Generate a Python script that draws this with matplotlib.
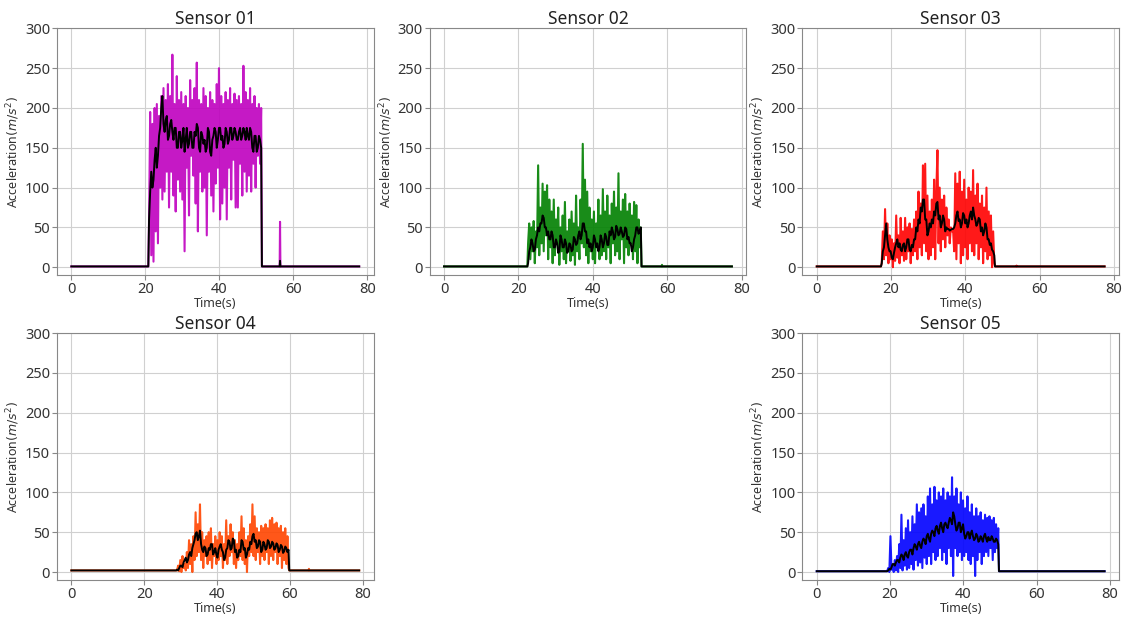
import numpy as np
import matplotlib.pyplot as plt

plt.rcParams['font.family'] = ['Noto Sans', 'DejaVu Sans']

STEP = 0.3    # sample spacing inside the active window (s)

# Sensor 01
s1_t0, s1_end, s1_base = 21.0, 77.8, 1
s1_raw = [60, 195, 15, 180, 7, 200, 45, 205, 30, 190,
          100, 215, 85, 225, 95, 210, 120, 230, 75, 215,
          120, 267, 90, 205, 70, 240, 110, 210, 95, 220,
          85, 205, 20, 215, 125, 200, 65, 235, 140, 210,
          115, 225, 80, 257, 45, 210, 120, 205, 95, 225,
          100, 215, 40, 200, 120, 220, 90, 210, 70, 205,
          105, 230, 125, 250, 60, 215, 80, 205, 100, 220,
          60, 210, 125, 225, 85, 205, 135, 218, 75, 210,
          75, 215, 130, 205, 90, 253, 120, 220, 95, 210,
          115, 225, 95, 205, 130, 215, 100, 200, 140, 205,
          130, 200]
s1_avg = [60, 95, 120, 100, 110, 135, 150, 125, 140, 165,
          175, 200, 215, 180, 170, 185, 190, 160, 165, 180,
          185, 170, 160, 175, 175, 150, 150, 170, 170, 150,
          160, 175, 145, 160, 175, 150, 155, 170, 170, 150,
          150, 170, 165, 180, 175, 150, 145, 170, 165, 155,
          160, 145, 150, 175, 170, 145, 140, 160, 165, 175,
          170, 150, 160, 175, 175, 160, 165, 150, 155, 175,
          170, 155, 160, 175, 175, 160, 165, 175, 170, 160,
          160, 170, 175, 160, 165, 175, 170, 160, 175, 165,
          160, 175, 170, 150, 145, 165, 165, 145, 150, 165,
          160, 150]
s1_blips = [(56.4, 57)]
s1_avg_blips = [(56.4, 8)]

# Sensor 02
s2_t0, s2_end, s2_base = 22.6, 77.4, 1
s2_raw = [30, 55, 10, 50, 20, 58, 5, 45, 25, 128,
          15, 75, 30, 105, 20, 95, 40, 103, 10, 85,
          25, 70, 5, 85, 15, 60, 30, 75, 3, 50,
          20, 65, 10, 82, 5, 45, 25, 60, 8, 70,
          15, 55, 3, 90, 20, 50, 10, 85, 30, 155,
          25, 110, 15, 95, 5, 75, 20, 60, 10, 70,
          5, 55, 25, 85, 10, 65, 15, 98, 20, 70,
          10, 90, 25, 65, 5, 80, 30, 95, 15, 75,
          20, 118, 10, 70, 35, 85, 5, 92, 25, 70,
          15, 80, 30, 65, 10, 82, 20, 78, 5, 60,
          25, 50]
s2_avg = [5, 20, 25, 35, 30, 20, 22, 35, 40, 50,
          45, 55, 55, 65, 62, 50, 50, 40, 45, 35,
          35, 45, 40, 25, 25, 35, 30, 18, 20, 40,
          35, 25, 25, 35, 30, 18, 20, 30, 28, 20,
          22, 38, 35, 28, 30, 40, 45, 35, 40, 55,
          55, 45, 45, 30, 35, 25, 30, 20, 25, 40,
          35, 25, 30, 20, 25, 40, 35, 25, 30, 42,
          38, 28, 28, 45, 40, 50, 45, 35, 38, 52,
          48, 40, 42, 50, 45, 38, 40, 50, 48, 35,
          38, 30, 30, 20, 25, 35, 40, 50, 50, 42,
          45, 50]
s2_blips = [(58.6, 3)]

# Sensor 03
s3_t0, s3_end, s3_base = 17.5, 77.5, 1
s3_raw = [5, 45, 10, 73, 15, 55, 5, 40, 10, 35,
          0, 30, 8, 65, 12, 40, 5, 62, 15, 45,
          8, 62, 10, 50, 20, 55, 5, 48, 15, 60,
          20, 70, 10, 95, 25, 80, 15, 128, 30, 130,
          20, 90, 10, 70, 15, 85, 25, 110, 10, 95,
          147, 30, 100, 20, 85, 35, 90, 25, 75, 40,
          60, 30, 50, 45, 48, 20, 118, 10, 105, 30,
          120, 5, 95, 15, 110, 25, 85, 10, 100, 30,
          95, 20, 122, 15, 90, 30, 105, 10, 80, 25,
          90, 5, 75, 20, 100, 10, 70, 15, 65, 0,
          45, 5]
s3_avg = [5, 20, 25, 40, 55, 35, 25, 20, 20, 12,
          10, 18, 25, 30, 35, 25, 30, 22, 20, 28,
          30, 20, 25, 35, 35, 22, 20, 28, 25, 35,
          35, 50, 45, 60, 55, 75, 70, 85, 85, 60,
          60, 40, 45, 55, 50, 60, 55, 70, 65, 80,
          82, 60, 65, 50, 55, 65, 60, 45, 50, 48,
          48, 46, 47, 48, 48, 50, 55, 65, 70, 58,
          60, 50, 55, 68, 65, 55, 60, 50, 55, 65,
          70, 60, 75, 65, 60, 52, 55, 62, 60, 45,
          50, 40, 45, 55, 50, 35, 35, 28, 30, 22,
          20, 15]
s3_blips = [(53.8, 2)]

# Sensor 04
s4_t0, s4_end, s4_base = 29.0, 79.0, 2
s4_raw = [2, 8, 1, 15, 0, 20, 5, 10, 2, 25,
          5, 40, 10, 35, 0, 45, 15, 75, 20, 60,
          25, 85, 15, 50, 5, 40, 20, 45, 10, 50,
          15, 55, 5, 35, 20, 45, 10, 40, 15, 50,
          20, 45, 5, 35, 15, 65, 10, 45, 20, 60,
          25, 50, 10, 40, 5, 35, 15, 50, 20, 70,
          15, 55, 10, 40, 0, 45, 20, 60, 25, 85,
          20, 70, 15, 55, 25, 50, 10, 58, 20, 55,
          15, 60, 25, 55, 10, 65, 20, 68, 15, 60,
          25, 62, 10, 55, 20, 58, 5, 50, 15, 55,
          10, 45, 5]
s4_avg = [3, 2, 5, 8, 8, 6, 12, 15, 18, 12,
          15, 22, 25, 20, 30, 35, 40, 48, 50, 40,
          45, 52, 35, 28, 25, 32, 30, 20, 22, 30,
          28, 35, 35, 22, 25, 30, 22, 18, 28, 32,
          35, 28, 25, 15, 18, 28, 30, 40, 38, 28,
          30, 42, 40, 25, 28, 18, 20, 28, 25, 40,
          38, 28, 30, 18, 22, 30, 28, 38, 35, 45,
          48, 38, 40, 30, 32, 40, 38, 25, 28, 38,
          35, 28, 30, 40, 38, 30, 32, 38, 36, 28,
          30, 36, 34, 25, 28, 34, 32, 24, 26, 32,
          30, 25, 28]
s4_blips = [(65.2, 4)]

# Sensor 05
s5_t0, s5_end, s5_base = 19.2, 78.5, 1
s5_raw = [1, 5, 0, 45, 3, 8, 0, 15, 2, 20,
          0, 35, 5, 72, 2, 40, 8, 55, 3, 65,
          5, 50, 10, 70, 3, 60, 15, 85, 8, 75,
          12, 80, 5, 85, 18, 70, 10, 95, 20, 105,
          10, 85, 25, 107, 15, 90, 20, 100, 30, 95,
          15, 105, 25, 90, 10, 100, 30, 95, 20, 119,
          -5, 95, 30, 105, 20, 85, 25, 100, 15, 90,
          20, 80, 25, 95, 15, 75, 10, 85, 20, 70,
          -5, 80, 15, 70, 25, 75, 10, 65, 20, 72,
          25, 68, 20, 70, 30, 65, 15, 68, 25, 60,
          30, 55]
s5_avg = [1, 2, 4, 3, 6, 10, 10, 8, 12, 15,
          15, 12, 18, 22, 20, 15, 22, 25, 20, 18,
          25, 28, 28, 22, 30, 35, 32, 28, 35, 38,
          33, 30, 38, 42, 40, 35, 45, 48, 42, 38,
          48, 52, 50, 45, 55, 58, 52, 48, 58, 62,
          55, 50, 60, 62, 58, 55, 62, 68, 65, 60,
          75, 70, 60, 52, 55, 62, 62, 50, 55, 60,
          48, 42, 45, 50, 50, 42, 48, 52, 45, 40,
          42, 48, 45, 38, 40, 45, 42, 38, 45, 48,
          42, 38, 44, 40, 40, 45, 42, 38, 38, 42,
          40, 35]

sensors = [
    ("Sensor 01", "m", s1_t0, s1_end, s1_base, s1_raw, s1_avg, s1_blips, s1_avg_blips),
    ("Sensor 02", "g", s2_t0, s2_end, s2_base, s2_raw, s2_avg, s2_blips, []),
    ("Sensor 03", "r", s3_t0, s3_end, s3_base, s3_raw, s3_avg, s3_blips, []),
    ("Sensor 04", "orangered", s4_t0, s4_end, s4_base, s4_raw, s4_avg, s4_blips, []),
    ("Sensor 05", "b", s5_t0, s5_end, s5_base, s5_raw, s5_avg, [], []),
]


def build(t0, vals, end, base, blips):
    t = list(t0 + STEP * np.arange(len(vals)))
    y = list(vals)
    t = [0.0, t0 - 0.2] + t + [t[-1] + 0.2, end]
    y = [base, base] + y + [base, base]
    for bt, bv in blips:
        t += [bt - 0.1, bt, bt + 0.1]
        y += [base, bv, base]
    order = np.argsort(t, kind="stable")
    return np.array(t)[order], np.array(y)[order]


fig, axes = plt.subplots(2, 3, figsize=(11.28, 6.17), dpi=100)
fig.subplots_adjust(left=0.0505, right=0.992, top=0.954, bottom=0.06,
                    wspace=0.177, hspace=0.235)
fig.delaxes(axes[1, 1])
slots = [axes[0, 0], axes[0, 1], axes[0, 2], axes[1, 0], axes[1, 2]]

for ax, (name, col, t0, end, base, raw, avg, blips, avg_blips) in zip(slots, sensors):
    tr, yr = build(t0, raw, end, base, blips)
    ta, ya = build(t0, avg, end, base, avg_blips)
    ax.plot(tr, yr, color=col, lw=1.5, alpha=0.9)
    ax.plot(ta, ya, color="black", lw=1.4)
    ax.set_ylim(-10, 300)
    ax.set_yticks(range(0, 301, 50))
    ax.set_xticks(range(0, 81, 20))
    ax.grid(True, color="#d0d0d0", lw=0.8)
    ax.set_axisbelow(True)
    for sp in ax.spines.values():
        sp.set_color("#888888")
    ax.tick_params(colors="#888888", labelcolor="#333333", labelsize=10.5, length=3.5, pad=1.5)
    ax.set_title(name, fontsize=12.5, color="#222222", pad=3)
    ax.set_xlabel("Time(s)", fontsize=9, color="#333333", labelpad=0)
    ax.set_ylabel(r"Acceleration$(m/s^2)$", fontsize=9, color="#333333", labelpad=2)

fig.savefig("out.png", dpi=100, facecolor="white")
